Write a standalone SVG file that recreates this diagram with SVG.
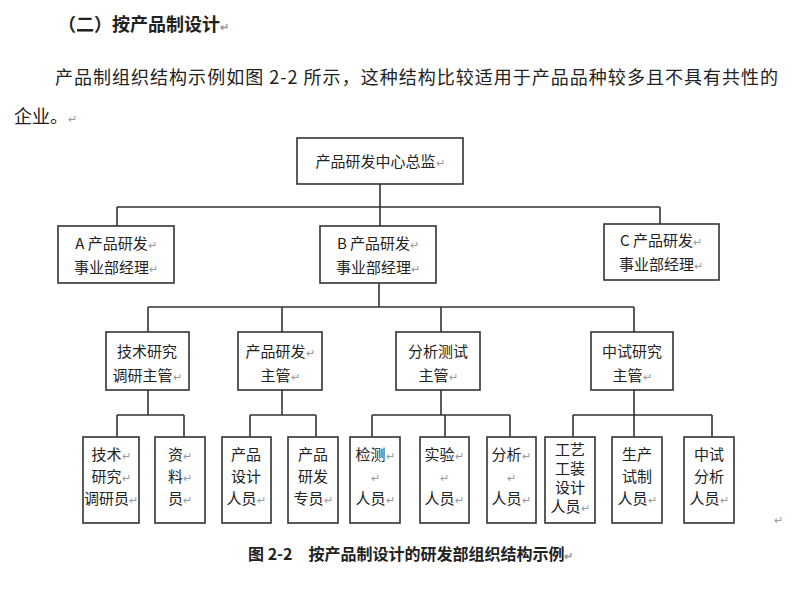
<svg xmlns="http://www.w3.org/2000/svg" width="800" height="601" viewBox="0 0 800 601">
<style>
text{font-family:"Noto Sans CJK SC","Liberation Sans",sans-serif;fill:#222}
.b rect{fill:#fff;stroke:#333;stroke-width:1.6}
.t{font-size:15px;text-anchor:middle}
.r{fill:#999;font-size:11px}
#conn path{fill:none;stroke:#333;stroke-width:1.6}
</style>
<rect width="800" height="601" fill="#fff"/>
<text x="58" y="31" font-size="18" font-weight="bold">（二）按产品制设计<tspan class="r">↵</tspan></text>
<text x="55" y="84" font-size="18" textLength="723">产品制组织结构示例如图 2-2 所示，这种结构比较适用于产品品种较多且不具有共性的</text>
<text x="14" y="123" font-size="18">企业。<tspan class="r">↵</tspan></text>
<g id="conn">
<path d="M380 184V207M117 207H660M117 207V226M380 207V226M660 207V226"/>
<path d="M379 283V307M148 307H634M148 307V332M282 307V332M441 307V332M634 307V332"/>
<path d="M148 390V415M117 415H184M117 415V437M184 415V437"/>
<path d="M282 390V415M250 415H316M250 415V437M316 415V437"/>
<path d="M441 390V415M372 415H510M372 415V437M445 415V437M510 415V437"/>
<path d="M634 390V415M573 415H712M573 415V437M634 415V437M712 415V437"/>
</g>
<g class="b">
<g id="n0"><rect x="297" y="138" width="166" height="46"/><text class="t" x="380" y="167">产品研发中心总监<tspan class="r">↵</tspan></text></g>
<g id="nA"><rect x="58" y="226" width="116" height="57"/><text class="t" x="116" y="249">A 产品研发<tspan class="r">↵</tspan></text><text class="t" x="116" y="273">事业部经理<tspan class="r">↵</tspan></text></g>
<g id="nB"><rect x="320" y="226" width="116" height="57"/><text class="t" x="378" y="249">B 产品研发<tspan class="r">↵</tspan></text><text class="t" x="378" y="273">事业部经理<tspan class="r">↵</tspan></text></g>
<g id="nC"><rect x="604" y="224" width="115" height="56"/><text class="t" x="661" y="246">C 产品研发<tspan class="r">↵</tspan></text><text class="t" x="661" y="270">事业部经理<tspan class="r">↵</tspan></text></g>
<g id="m1"><rect x="106" y="332" width="83" height="58"/><text class="t" x="147" y="357">技术研究</text><text class="t" x="147" y="381">调研主管<tspan class="r">↵</tspan></text></g>
<g id="m2"><rect x="238" y="332" width="84" height="58"/><text class="t" x="280" y="357">产品研发<tspan class="r">↵</tspan></text><text class="t" x="280" y="381">主管<tspan class="r">↵</tspan></text></g>
<g id="m3"><rect x="396" y="332" width="84" height="58"/><text class="t" x="438" y="357">分析测试</text><text class="t" x="438" y="381">主管<tspan class="r">↵</tspan></text></g>
<g id="m4"><rect x="591" y="332" width="82" height="58"/><text class="t" x="632" y="357">中试研究</text><text class="t" x="632" y="381">主管<tspan class="r">↵</tspan></text></g>
<g id="c1"><rect x="83" y="437" width="56" height="86"/><text class="t" x="111" y="460">技术<tspan class="r">↵</tspan></text><text class="t" x="111" y="482">研究<tspan class="r">↵</tspan></text><text class="t" x="111" y="504">调研员<tspan class="r">↵</tspan></text></g>
<g id="c2"><rect x="155" y="437" width="50" height="86"/><text class="t" x="180" y="460">资<tspan class="r">↵</tspan></text><text class="t" x="180" y="482">料<tspan class="r">↵</tspan></text><text class="t" x="180" y="504">员<tspan class="r">↵</tspan></text></g>
<g id="c3"><rect x="222" y="437" width="49" height="86"/><text class="t" x="246" y="460">产品</text><text class="t" x="246" y="482">设计</text><text class="t" x="246" y="504">人员<tspan class="r">↵</tspan></text></g>
<g id="c4"><rect x="288" y="437" width="50" height="86"/><text class="t" x="313" y="460">产品</text><text class="t" x="313" y="482">研发</text><text class="t" x="313" y="504">专员<tspan class="r">↵</tspan></text></g>
<g id="c5"><rect x="350" y="437" width="50" height="86"/><text class="t" x="375" y="460">检测<tspan class="r">↵</tspan></text><text class="t r" x="375" y="482">↵</text><text class="t" x="375" y="504">人员<tspan class="r">↵</tspan></text></g>
<g id="c6"><rect x="420" y="437" width="49" height="86"/><text class="t" x="444" y="460">实验<tspan class="r">↵</tspan></text><text class="t r" x="444" y="482">↵</text><text class="t" x="444" y="504">人员<tspan class="r">↵</tspan></text></g>
<g id="c7"><rect x="487" y="437" width="49" height="86"/><text class="t" x="511" y="460">分析<tspan class="r">↵</tspan></text><text class="t r" x="511" y="482">↵</text><text class="t" x="511" y="504">人员<tspan class="r">↵</tspan></text></g>
<g id="c8"><rect x="545" y="437" width="50" height="86"/><text class="t" x="570" y="455">工艺</text><text class="t" x="570" y="474">工装</text><text class="t" x="570" y="493">设计</text><text class="t" x="570" y="512">人员<tspan class="r">↵</tspan></text></g>
<g id="c9"><rect x="612" y="437" width="50" height="86"/><text class="t" x="637" y="460">生产</text><text class="t" x="637" y="482">试制</text><text class="t" x="637" y="504">人员<tspan class="r">↵</tspan></text></g>
<g id="c10"><rect x="684" y="437" width="50" height="86"/><text class="t" x="709" y="460">中试</text><text class="t" x="709" y="482">分析</text><text class="t" x="709" y="504">人员<tspan class="r">↵</tspan></text></g>
</g>
<text class="r" x="774" y="524">↵</text>
<text x="248" y="560" font-size="16" font-weight="bold">图 2-2　按产品制设计的研发部组织结构示例<tspan class="r">↵</tspan></text>
</svg>
